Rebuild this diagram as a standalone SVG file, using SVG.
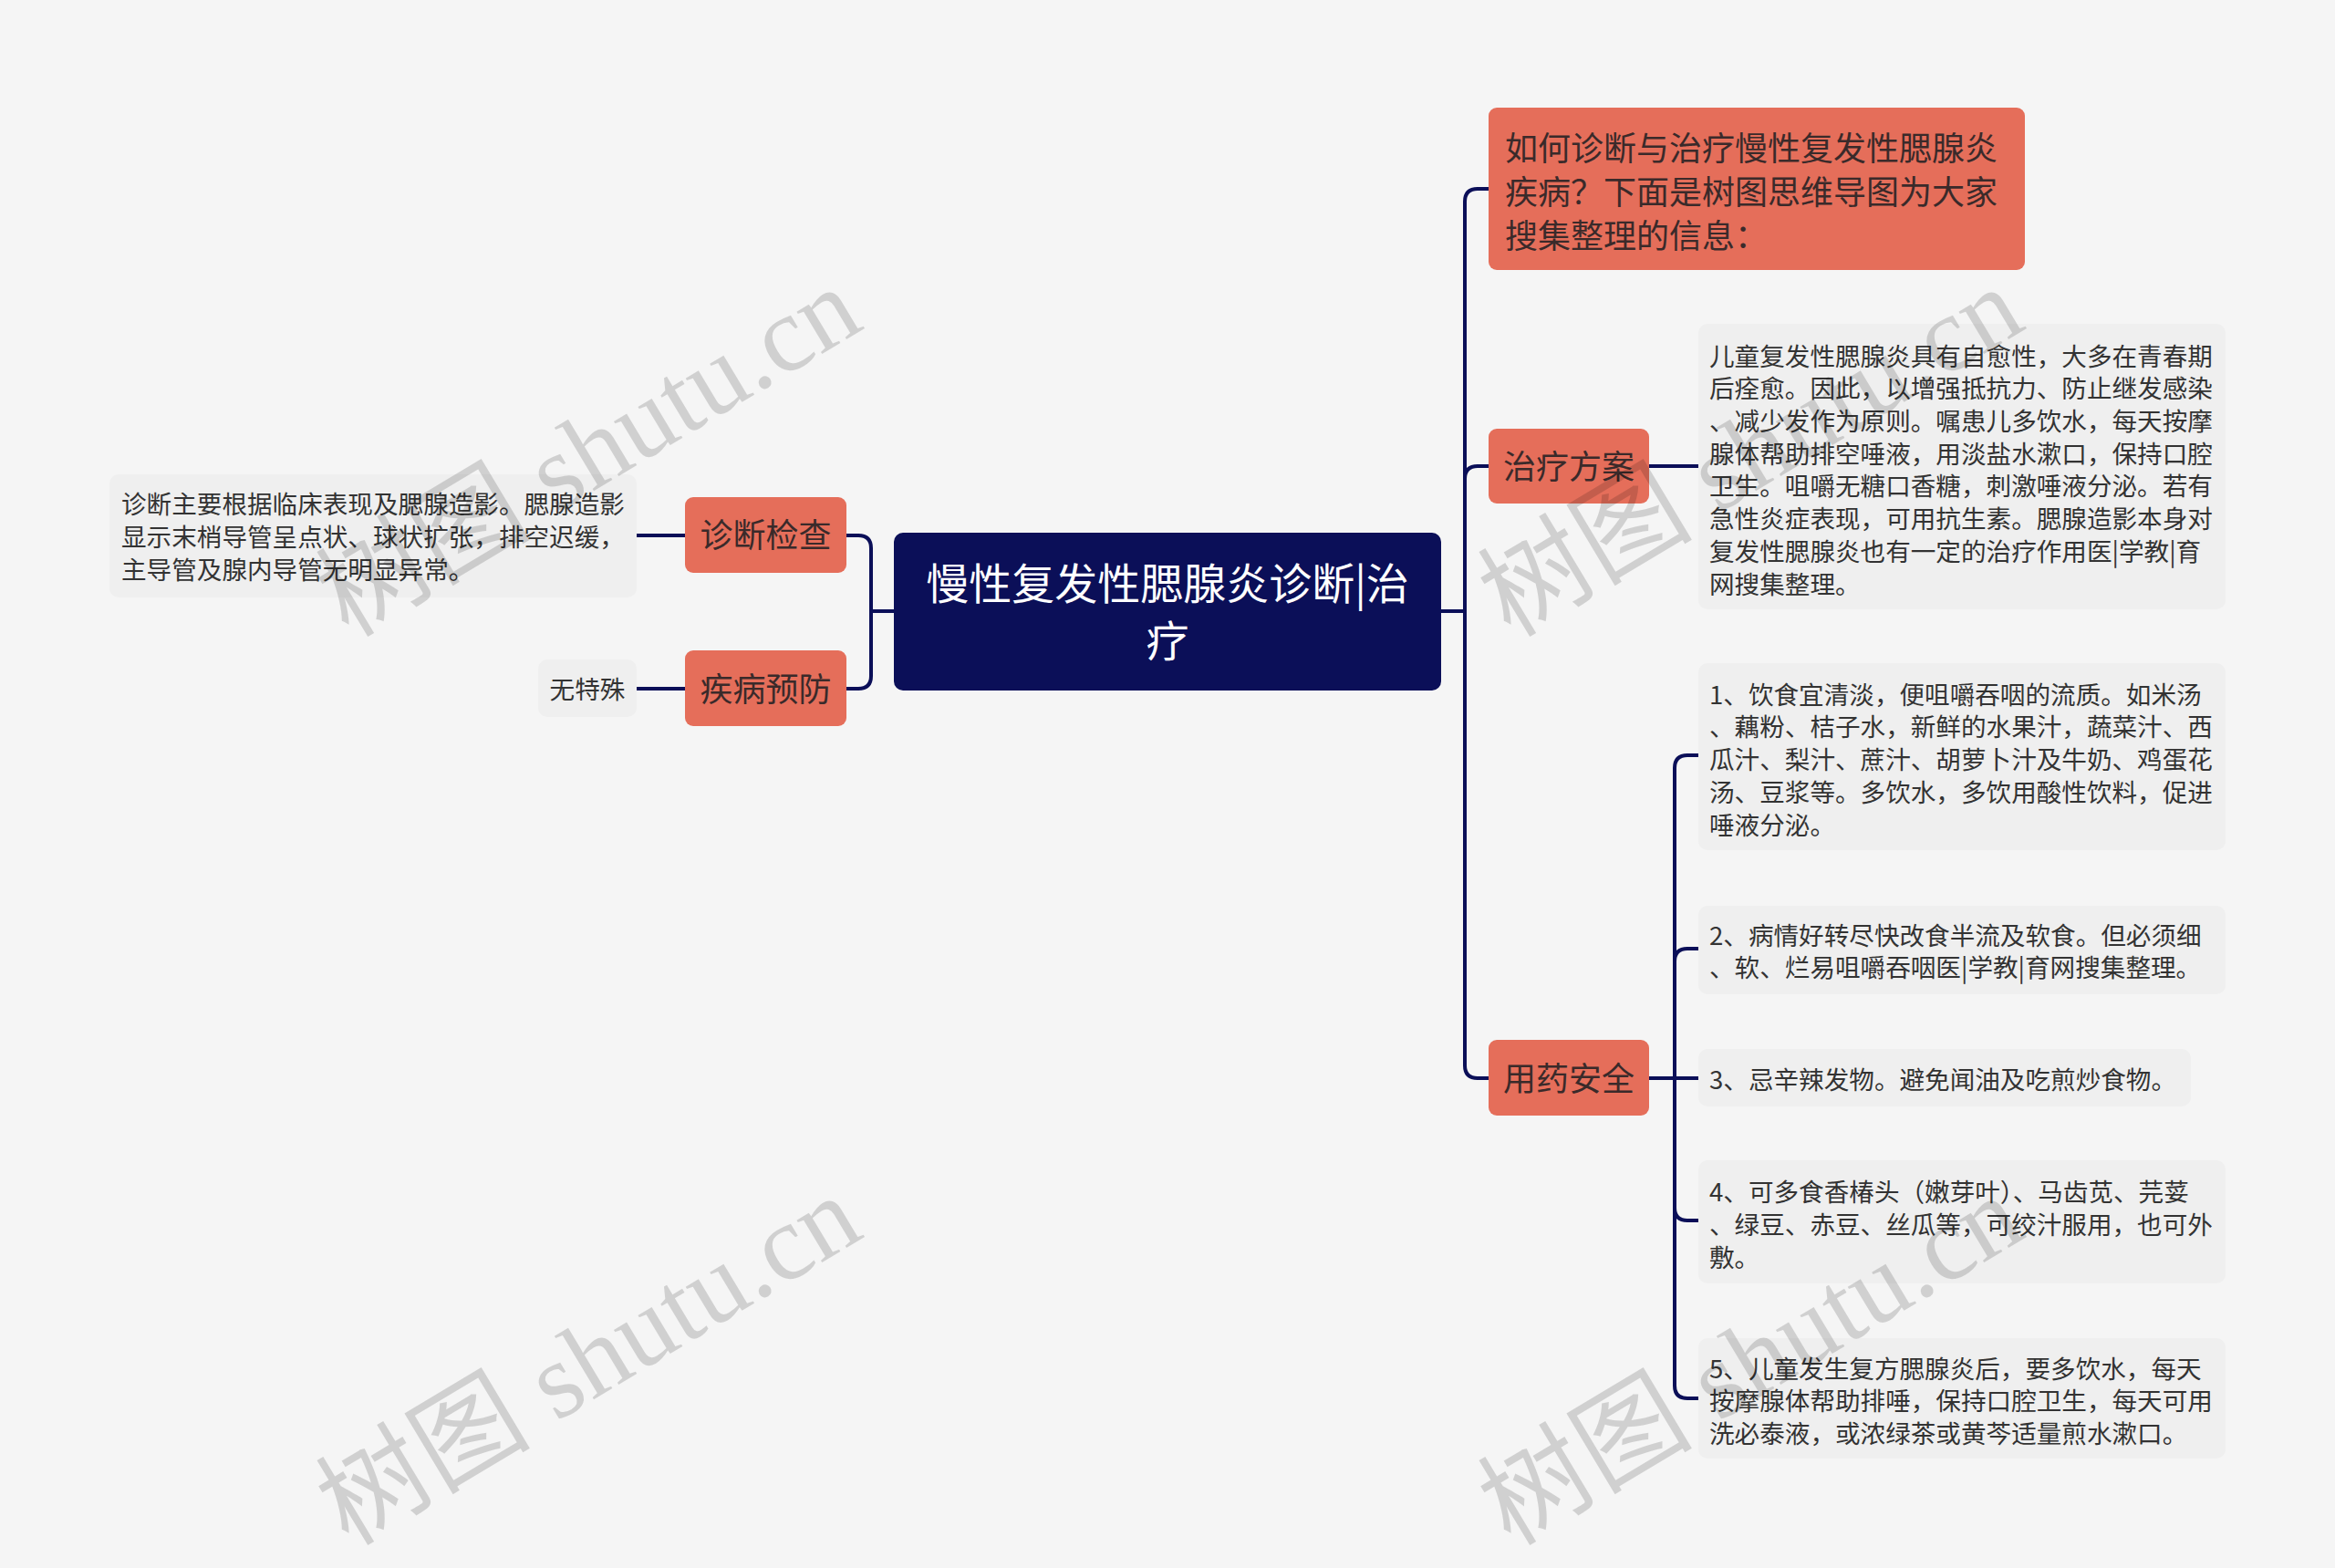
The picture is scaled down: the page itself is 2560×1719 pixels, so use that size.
<svg xmlns="http://www.w3.org/2000/svg" width="2560" height="1719" viewBox="0 0 2560 1719">
<style>
.bg{fill:#f5f5f5}
.root rect{fill:#0b0f58}
.root text{fill:#ffffff;font-size:47px;text-anchor:middle}
.main rect{fill:#e56e5a}
.main text{fill:#3a2a2a;font-size:36px}
.leaf rect{fill:#efefef}
.leaf text{fill:#333333;font-size:27.6px}
text{font-family:"Noto Sans CJK SC","Noto Sans",sans-serif}
.conn path{fill:none;stroke:#0b0f58;stroke-width:4;stroke-linecap:round}
.wm{font-family:"Liberation Serif","Noto Sans CJK SC",serif;font-size:118px;fill:#000;fill-opacity:0.15}
</style>
<rect class="bg" x="0" y="0" width="2560" height="1719"/>
<g class="conn" id="connectors">
<path d="M980,670 H955"/>
<path d="M955,670 V601 Q955,587 941,587 H928"/>
<path d="M955,670 V741 Q955,755 941,755 H928"/>
<path d="M751,587 H698"/>
<path d="M751,755 H698"/>
<path d="M1580,670 H1606"/>
<path d="M1606,670 V221 Q1606,207 1620,207 H1632"/>
<path d="M1606,670 V525 Q1606,511 1620,511 H1632"/>
<path d="M1606,670 V1168 Q1606,1182 1620,1182 H1632"/>
<path d="M1808,511 H1862"/>
<path d="M1808,1182 H1836"/>
<path d="M1836,1182 V842 Q1836,828 1850,828 H1862"/>
<path d="M1836,1182 V1054 Q1836,1040 1850,1040 H1862"/>
<path d="M1836,1182 H1862"/>
<path d="M1836,1182 V1324 Q1836,1338 1850,1338 H1862"/>
<path d="M1836,1182 V1519 Q1836,1533 1850,1533 H1862"/>
</g>
<g class="root" id="n-root">
<rect x="980" y="584" width="600" height="173" rx="10"/>
<text x="1280" y="657">慢性复发性腮腺炎诊断|治</text>
<text x="1280" y="720">疗</text>
</g>
<g class="main" id="n-zdjc">
<rect x="751" y="545" width="177" height="83" rx="9"/>
<text x="839.5" y="600" text-anchor="middle">诊断检查</text>
</g>
<g class="main" id="n-jbyf">
<rect x="751" y="713" width="177" height="83" rx="9"/>
<text x="839.5" y="768.5" text-anchor="middle">疾病预防</text>
</g>
<g class="main" id="n-intro">
<rect x="1632" y="118" width="588" height="178" rx="9"/>
<text x="1650" y="175.7">如何诊断与治疗慢性复发性腮腺炎</text>
<text x="1650" y="223.7">疾病？下面是树图思维导图为大家</text>
<text x="1650" y="271.7">搜集整理的信息：</text>
</g>
<g class="main" id="n-zlfa">
<rect x="1632" y="470" width="176" height="82" rx="9"/>
<text x="1720" y="525" text-anchor="middle">治疗方案</text>
</g>
<g class="main" id="n-yyaq">
<rect x="1632" y="1140" width="176" height="83" rx="9"/>
<text x="1720" y="1196" text-anchor="middle">用药安全</text>
</g>
<g class="leaf" id="l-zdjc">
<rect x="120" y="520" width="578" height="135" rx="10"/>
<text x="133" y="562.6">诊断主要根据临床表现及腮腺造影。腮腺造影</text>
<text x="133" y="599">显示末梢导管呈点状、球状扩张，排空迟缓，</text>
<text x="133" y="635">主导管及腺内导管无明显异常。</text>
</g>
<g class="leaf" id="l-jbyf">
<rect x="590" y="723" width="108" height="63" rx="10"/>
<text x="644" y="765.6" text-anchor="middle">无特殊</text>
</g>
<g class="leaf" id="l-zlfa">
<rect x="1862" y="355" width="578" height="313" rx="10"/>
<text x="1874" y="400.6">儿童复发性腮腺炎具有自愈性，大多在青春期</text>
<text x="1874" y="436.3">后痊愈。因此，以增强抵抗力、防止继发感染</text>
<text x="1874" y="472">、减少发作为原则。嘱患儿多饮水，每天按摩</text>
<text x="1874" y="507.7">腺体帮助排空唾液，用淡盐水漱口，保持口腔</text>
<text x="1874" y="543.4">卫生。咀嚼无糖口香糖，刺激唾液分泌。若有</text>
<text x="1874" y="579.1">急性炎症表现，可用抗生素。腮腺造影本身对</text>
<text x="1874" y="614.8">复发性腮腺炎也有一定的治疗作用医|学教|育</text>
<text x="1874" y="650.5">网搜集整理。</text>
</g>
<g class="leaf" id="l-1">
<rect x="1862" y="727" width="578" height="205" rx="10"/>
<text x="1874" y="771.6">1、饮食宜清淡，便咀嚼吞咽的流质。如米汤</text>
<text x="1874" y="807.4">、藕粉、桔子水，新鲜的水果汁，蔬菜汁、西</text>
<text x="1874" y="843.2">瓜汁、梨汁、蔗汁、胡萝卜汁及牛奶、鸡蛋花</text>
<text x="1874" y="879">汤、豆浆等。多饮水，多饮用酸性饮料，促进</text>
<text x="1874" y="914.8">唾液分泌。</text>
</g>
<g class="leaf" id="l-2">
<rect x="1862" y="993" width="578" height="97" rx="10"/>
<text x="1874" y="1035.6">2、病情好转尽快改食半流及软食。但必须细</text>
<text x="1874" y="1071.4">、软、烂易咀嚼吞咽医|学教|育网搜集整理。</text>
</g>
<g class="leaf" id="l-3">
<rect x="1862" y="1150" width="540" height="63" rx="10"/>
<text x="1874" y="1194">3、忌辛辣发物。避免闻油及吃煎炒食物。</text>
</g>
<g class="leaf" id="l-4">
<rect x="1862" y="1272" width="578" height="135" rx="10"/>
<text x="1874" y="1317">4、可多食香椿头（嫩芽叶）、马齿苋、芫荽</text>
<text x="1874" y="1352.8">、绿豆、赤豆、丝瓜等，可绞汁服用，也可外</text>
<text x="1874" y="1388.6">敷。</text>
</g>
<g class="leaf" id="l-5">
<rect x="1862" y="1467" width="578" height="132" rx="10"/>
<text x="1874" y="1510.6">5、儿童发生复方腮腺炎后，要多饮水，每天</text>
<text x="1874" y="1546.4">按摩腺体帮助排唾，保持口腔卫生，每天可用</text>
<text x="1874" y="1582.2">洗必泰液，或浓绿茶或黄芩适量煎水漱口。</text>
</g>
<g id="watermarks">
<text class="wm" transform="translate(382,700) rotate(-31)">树图 shutu.cn</text>
<text class="wm" transform="translate(1656,700) rotate(-31)">树图 shutu.cn</text>
<text class="wm" transform="translate(382,1696) rotate(-31)">树图 shutu.cn</text>
<text class="wm" transform="translate(1656,1696) rotate(-31)">树图 shutu.cn</text>
</g>
</svg>
